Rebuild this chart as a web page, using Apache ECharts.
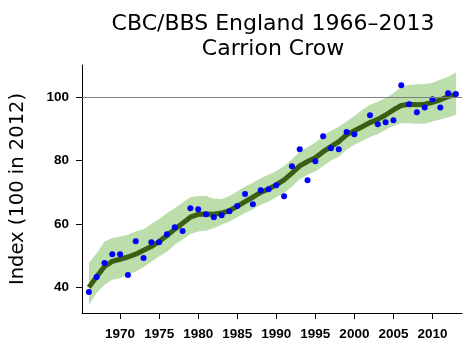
<!DOCTYPE html>
<html><head><meta charset="utf-8">
<script src="https://cdn.jsdelivr.net/npm/echarts@6/dist/echarts.min.js"></script>
<style>html,body{margin:0;padding:0;background:#fff}#c{width:470px;height:353px}</style>
</head><body><div id="c"></div>
<script>
var years = [1966,1967,1968,1969,1970,1971,1972,1973,1974,1975,1976,1977,1978,1979,1980,1981,1982,1983,1984,1985,1986,1987,1988,1989,1990,1991,1992,1993,1994,1995,1996,1997,1998,1999,2000,2001,2002,2003,2004,2005,2006,2007,2008,2009,2010,2011,2012,2013];
var indexValues = [38.4,43.2,47.6,50.4,50.4,43.8,54.5,49.2,54.2,54.2,56.7,58.9,57.7,64.9,64.6,63.0,62.1,62.7,64.0,65.6,69.4,66.2,70.6,70.9,72.2,68.7,78.2,83.6,73.8,79.8,87.7,83.9,83.6,89.0,88.3,null,94.3,91.5,92.1,92.7,103.8,97.8,95.3,96.8,99.4,96.8,101.3,101.0];
var trend = [39.9,43.3,46.5,48.1,48.8,49.5,50.4,51.6,52.8,54.4,56.3,58.3,60.2,62.1,63.0,63.1,63.0,63.4,64.2,65.5,67.0,68.4,69.9,71.0,72.3,73.9,76.0,78.3,79.7,80.9,82.8,84.4,86.0,88.1,89.4,90.7,92.0,93.0,94.4,96.0,97.4,97.8,97.6,97.8,98.4,99.2,100.2,101.0];
var lower = [34.4,38.1,40.7,42.3,42.8,43.9,44.9,46.3,48.1,49.7,51.2,53.4,55.0,56.8,57.6,57.9,58.6,59.7,60.7,62.1,63.4,64.6,66.0,67.0,68.4,69.7,71.8,74.1,75.5,76.5,78.3,80.0,81.2,83.4,85.0,86.2,87.4,88.4,89.7,91.0,91.8,91.8,91.6,91.6,92.3,93.0,93.7,94.4];
var upper = [47.6,50.7,54.4,55.5,56.0,56.5,57.6,58.3,59.9,61.5,63.4,64.9,66.7,68.4,68.8,68.8,67.9,67.8,68.8,70.2,71.8,73.0,74.4,75.5,76.7,78.3,80.4,82.8,84.2,85.7,87.8,89.4,90.7,92.3,94.1,96.0,97.6,98.6,99.7,101.3,103.4,103.9,104.1,104.2,104.6,105.5,106.5,107.9];
var xTicks = [1970,1975,1980,1985,1990,1995,2000,2005,2010];
var yTicks = [40,60,80,100];

var bandData = years.map(function(y,i){return [y, lower[i], upper[i]];});
var trendData = years.map(function(y,i){return [y, trend[i]];});
var pointData = [];
years.forEach(function(y,i){ if(indexValues[i]!==null) pointData.push([y, indexValues[i]]); });

function renderBand(params, api){
  if (params.dataIndex !== 0) return null;
  var top = [], bottom = [];
  for (var i = 0; i < bandData.length; i++){
    top.push(api.coord([bandData[i][0], bandData[i][2]]));
    bottom.push(api.coord([bandData[i][0], bandData[i][1]]));
  }
  var pts = top.concat(bottom.reverse());
  return {type:'polygon', shape:{points:pts}, style:{fill:'#bcdeaa', stroke:'none'}, silent:true};
}

var chart = echarts.init(document.getElementById('c'), null, {renderer:'canvas'});
chart.setOption({
  animation:false,
  backgroundColor:'#ffffff',
  title:{
    text:'CBC/BBS England 1966\u20132013\nCarrion Crow',
    left:268, top:7, textAlign:'center',
    textStyle:{fontFamily:'DejaVu Sans', fontSize:22, fontWeight:'normal', color:'#000', lineHeight:25}
  },
  grid:{left:80, right:8, top:65, bottom:40},
  xAxis:{
    type:'value', min:1965.12, max:2013.78,
    splitLine:{show:false},
    axisLine:{show:true, lineStyle:{color:'#000', width:1}},
    axisTick:{show:true, customValues:xTicks, length:6, lineStyle:{color:'#000'}},
    axisLabel:{customValues:xTicks, margin:14, color:'#000', fontFamily:'Liberation Sans', fontWeight:'bold', fontSize:13.5, formatter:function(v){return String(v);}}
  },
  yAxis:{
    type:'value', min:31.8, max:110.2,
    name:'Index (100 in 2012)', nameLocation:'middle', nameGap:54, nameRotate:90,
    nameTextStyle:{fontFamily:'DejaVu Sans', fontSize:19.5, color:'#000'},
    splitLine:{show:false},
    axisLine:{show:true, lineStyle:{color:'#000', width:1}},
    axisTick:{show:true, customValues:yTicks, length:6, lineStyle:{color:'#000'}},
    axisLabel:{customValues:yTicks, margin:13, color:'#000', fontFamily:'Liberation Sans', fontWeight:'bold', fontSize:13.5}
  },
  series:[
    {type:'custom', data:bandData, renderItem:renderBand, encode:{x:0, y:[1,2]}, silent:true, z:1, clip:true},
    {type:'line', data:[], symbol:'none', silent:true, z:2,
     markLine:{silent:true, symbol:['none','none'], label:{show:false}, lineStyle:{color:'#808080', width:1, type:'solid'}, data:[{yAxis:100}]}},
    {type:'line', data:trendData, symbol:'none', lineStyle:{color:'#3b5e12', width:5}, z:3},
    {type:'scatter', data:pointData, symbol:'circle', symbolSize:6, itemStyle:{color:'#0000ff', opacity:1}, z:4}
  ]
});
</script></body></html>
